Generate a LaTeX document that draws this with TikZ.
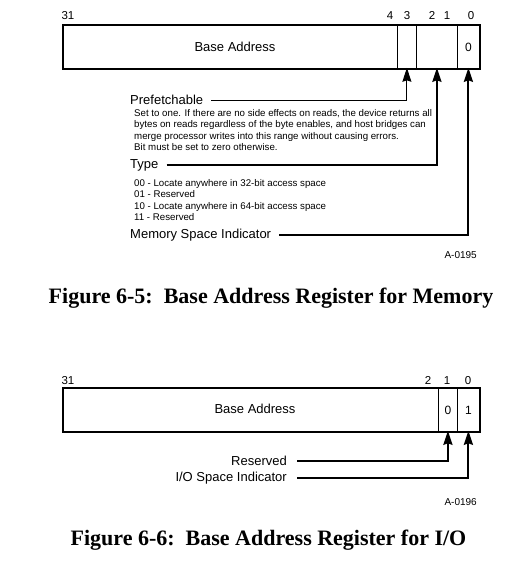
\documentclass[tikz,border=0pt]{standalone}
\usepackage{fontspec}
\setmainfont{Liberation Sans}
\newfontfamily\capfont{Liberation Serif}
\usetikzlibrary{arrows.meta}
\begin{document}
\begin{tikzpicture}[x=1pt,y=-1pt,
  field/.style={draw,line width=0.8pt,inner sep=0,anchor=north west},
  outer/.style={draw,line width=2pt},
  bitnum/.style={inner sep=0,anchor=base,font=\fontsize{11.5}{13}\selectfont},
  cellval/.style={inner sep=0,font=\fontsize{12}{14}\selectfont},
  lbl/.style={inner sep=0,font=\fontsize{13}{15}\selectfont},
  small/.style={inner sep=0,align=left,font=\fontsize{9.7}{11.4}\selectfont},
  figid/.style={inner sep=0,font=\fontsize{10}{12}\selectfont},
  caption/.style={inner sep=0,font=\capfont\bfseries\fontsize{22}{26}\selectfont},
  arr/.style={line width=2pt,-{Stealth[length=14pt,width=9pt,inset=1.5pt]}},
  thinarr/.style={line width=1pt,-{Stealth[length=14pt,width=9pt,inset=1.5pt]}}
]
\useasboundingbox (0,0) rectangle (525,571);
% ---------- Figure 6-5 ----------
\node[field,minimum width=334,minimum height=43] (base1) at (63,25) {};
\node[field,minimum width=19,minimum height=43] (b3) at (397,25) {};
\node[field,minimum width=41,minimum height=43] (b21) at (416,25) {};
\node[field,minimum width=22,minimum height=43] (b0) at (457,25) {};
\draw[outer] (base1.north west) rectangle (b0.south east);
\node[lbl] (ba1) at (235,47) {Base Address};
\node[cellval] (v0) at (b0.center) {0};
\node[bitnum] (n31) at (68,19) {31};
\node[bitnum] (n4) at (390,19) {4};
\node[bitnum] (n3) at (407,19) {3};
\node[bitnum] (n2) at (432,19) {2};
\node[bitnum] (n1) at (447,19) {1};
\node[bitnum] (n0) at (471,19) {0};

\node[lbl,anchor=west] (pre) at (130,100) {Prefetchable};
\node[small,anchor=north west] (desc) at (134,109) {Set to one. If there are no side effects on reads, the device returns all\\bytes on reads regardless of the byte enables, and host bridges can\\merge processor writes into this range without causing errors.\\Bit must be set to zero otherwise.};
\node[lbl,anchor=west] (typ) at (130,165) {Type};
\node[small,anchor=north west] (tlist) at (134,179) {00 - Locate anywhere in 32-bit access space\\01 - Reserved\\10 - Locate anywhere in 64-bit access space\\11 - Reserved};
\node[lbl,anchor=west] (msi) at (130,235) {Memory Space Indicator};
\node[figid,anchor=east] (fid1) at (477,255) {A-0195};

\draw[thinarr] ([xshift=8pt]pre.east) -| ([yshift=1pt]b3.south);
\draw[arr] ([xshift=8pt]typ.east) -| ([yshift=1pt]b21.south);
\draw[arr] ([xshift=8pt]msi.east) -| ([yshift=1pt]b0.south);

\node[caption] (cap1) at (271,298) {Figure 6-5:\ \ Base Address Register for Memory};

% ---------- Figure 6-6 ----------
\node[field,minimum width=375,minimum height=43] (base2) at (63,388) {};
\node[field,minimum width=19,minimum height=43] (f1) at (438,388) {};
\node[field,minimum width=22,minimum height=43] (f0) at (457,388) {};
\draw[outer] (base2.north west) rectangle (f0.south east);
\node[lbl] (ba2) at (255,409) {Base Address};
\node[cellval] (w1) at (f1.center) {0};
\node[cellval] (w0) at (f0.center) {1};
\node[bitnum] (m31) at (68,384) {31};
\node[bitnum] (m2) at (428,384) {2};
\node[bitnum] (m1) at (447,384) {1};
\node[bitnum] (m0) at (468,384) {0};

\node[lbl,anchor=east] (res) at (287,461) {Reserved};
\node[lbl,anchor=east] (iosi) at (287,478) {I/O Space Indicator};
\node[figid,anchor=east] (fid2) at (477,502) {A-0196};
\draw[arr] ([xshift=10pt]res.east) -| ([yshift=1pt]f1.south);
\draw[arr] ([xshift=10pt]iosi.east) -| ([yshift=1pt]f0.south);

\node[caption] (cap2) at (268.5,540) {Figure 6-6:\ \ Base Address Register for I/O};
\end{tikzpicture}
\end{document}
